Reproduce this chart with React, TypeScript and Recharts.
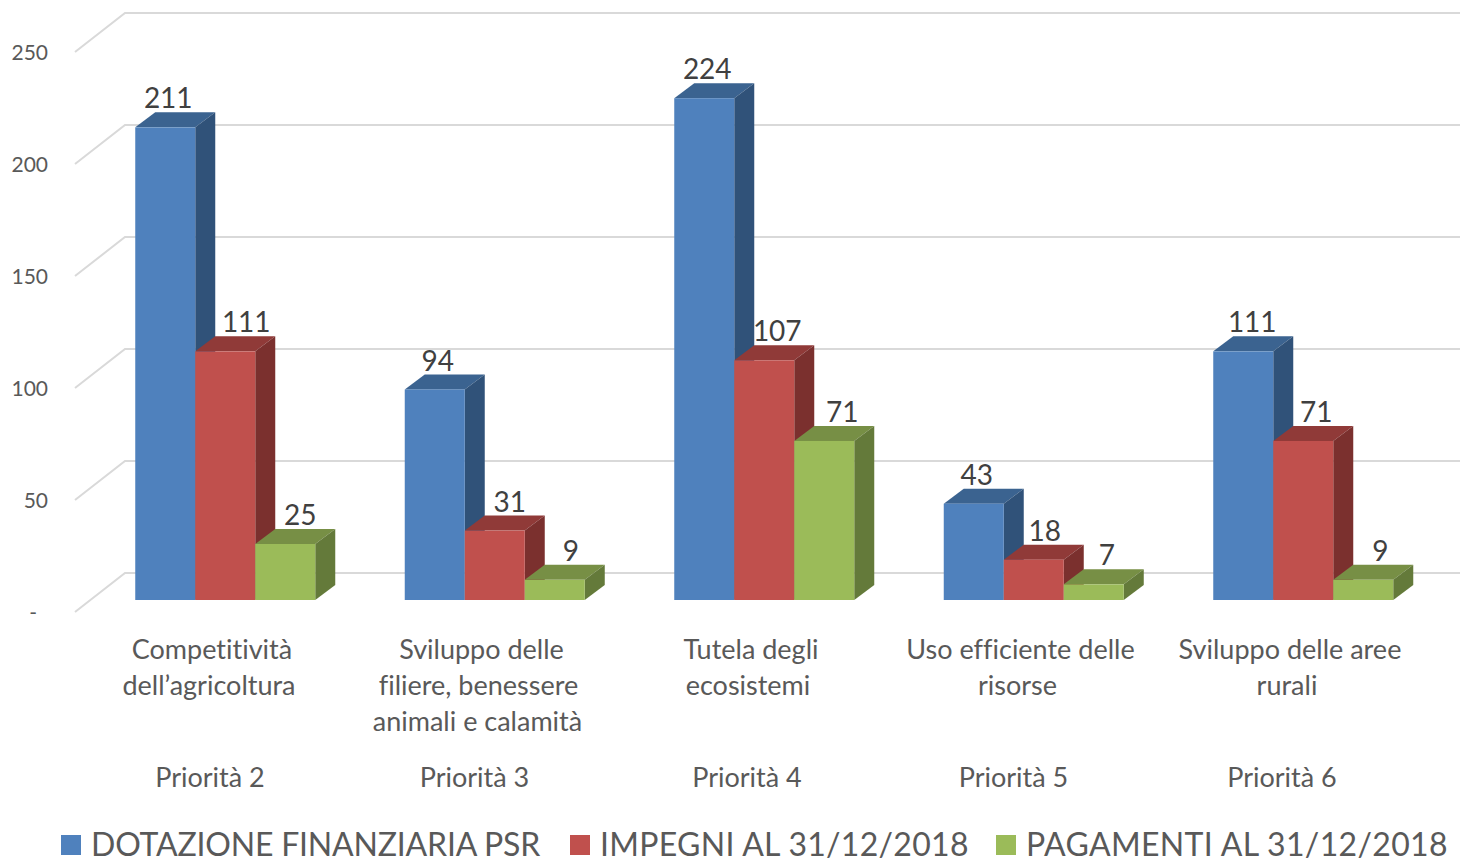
import { Bar, BarChart, CartesianGrid, LabelList, Legend, XAxis, YAxis } from "recharts";

const CATEGORIES = ["Priorità 2", "Priorità 3", "Priorità 4", "Priorità 5", "Priorità 6"];
const CATEGORY_LINES = [
  ["Competitività", "dell’agricoltura"],
  ["Sviluppo delle", "filiere, benessere", "animali e calamità"],
  ["Tutela degli", "ecosistemi"],
  ["Uso efficiente delle", "risorse"],
  ["Sviluppo delle aree", "rurali"],
];
const DOTAZIONE = [211, 94, 224, 43, 111];
const IMPEGNI = [111, 31, 107, 18, 71];
const PAGAMENTI = [25, 9, 71, 7, 9];
const Y_TICKS = [0, 50, 100, 150, 200, 250];

const data = CATEGORIES.map((name, i) => ({
  name,
  dotazione: DOTAZIONE[i],
  impegni: IMPEGNI[i],
  pagamenti: PAGAMENTI[i],
}));

// Fake-3D layout: bars sit on the front plane, the wall is pushed back and up.
const DEPTH_X = 20;
const DEPTH_Y = 15;
const FONT = "Lato, 'Open Sans', sans-serif";

const SERIES = [
  { key: "dotazione", name: "DOTAZIONE FINANZIARIA PSR", fill: "#4f81bd", top: "#3b6390", side: "#305279", labelDx: [3, 3, 3, 3, 9] },
  { key: "impegni", name: "IMPEGNI AL 31/12/2018", fill: "#c0504d", top: "#903a38", side: "#7b302e", labelDx: [21, 15, 13, 11, 13] },
  { key: "pagamenti", name: "PAGAMENTI AL 31/12/2018", fill: "#9bbb59", top: "#778f45", side: "#647a3a", labelDx: [15, 16, 18, 13, 17] },
];
const LEGEND_X = [61, 570, 996];
const LEGEND_SPACING = [-0.2, 0.3, 0.35];
const LINE_DX = [-13, -16, -17];
const PRIORITY_DX = [-15, -20, -17, -20, -21];

function Box3D({ x, y, width, height, fill, top, side }: any) {
  const r = x + width;
  const b = y + height;
  return (
    <g>
      <polygon points={`${x},${y} ${x + DEPTH_X},${y - DEPTH_Y} ${r + DEPTH_X},${y - DEPTH_Y} ${r},${y}`} fill={top} />
      <polygon points={`${r},${y} ${r + DEPTH_X},${y - DEPTH_Y} ${r + DEPTH_X},${b - DEPTH_Y} ${r},${b}`} fill={side} />
      <rect x={x} y={y} width={width} height={height} fill={fill} />
    </g>
  );
}

// Each grid line: diagonal on the left side wall, then along the back wall.
function WallLine({ y1 }: any) {
  return (
    <polyline
      points={`75,${y1 + 12} 125,${y1 - 27} 1460,${y1 - 27}`}
      fill="none"
      stroke="#d9d9d9"
      strokeWidth={2}
    />
  );
}

function YTick({ y, payload }: any) {
  const zero = payload.value === 0;
  return (
    <text x={zero ? 37 : 48} y={y + 12} dy="0.36em" textAnchor="end" fontFamily={FONT} fontSize={21} fill="#595959">
      {zero ? "-" : payload.value}
    </text>
  );
}

function XTick({ x, y, payload, index }: any) {
  const lines = CATEGORY_LINES[index];
  return (
    <g fontFamily={FONT} fontSize={27} fill="#595959" textAnchor="middle" style={{ fontVariantLigatures: "none" }}>
      {lines.map((line, i) => (
        <text key={line} x={x + LINE_DX[i]} y={y + 43.5 + i * 36} dy="0.36em">
          {line}
        </text>
      ))}
      <text x={x + PRIORITY_DX[index]} y={y + 171.5} dy="0.36em">
        {payload.value}
      </text>
    </g>
  );
}

function LegendRow({ payload }: any) {
  return (
    <div style={{ position: "relative", height: 36, fontFamily: FONT, fontSize: 32, color: "#595959" }}>
      {(payload ?? []).map((item: any, i: number) => (
        <div
          key={item.value}
          style={{ position: "absolute", left: LEGEND_X[i], top: 0, whiteSpace: "nowrap", lineHeight: "36px", letterSpacing: LEGEND_SPACING[i] }}
        >
          <span style={{ position: "absolute", left: 0, top: 9, width: 20, height: 20, background: item.color }} />
          <span style={{ marginLeft: 30 }}>{item.value}</span>
        </div>
      ))}
    </div>
  );
}

export default function App() {
  return (
    <div style={{ position: "absolute", left: 0, top: 0, width: 1460, height: 862, background: "#fff", overflow: "hidden" }}>
      <BarChart
        width={1460}
        height={862}
        data={data}
        barGap={0}
        barSize={60}
        barCategoryGap={44.75}
        margin={{ top: 40, right: 22.25, bottom: 232, left: 40.25 }}
      >
        <CartesianGrid vertical={false} horizontal={WallLine} />
        <XAxis dataKey="name" interval={0} axisLine={false} tickLine={false} tickMargin={0} height={30} tick={XTick} />
        <YAxis width={50} domain={[0, 250]} ticks={Y_TICKS} axisLine={false} tickLine={false} tick={YTick} />
        <Legend
          layout="horizontal"
          verticalAlign="middle"
          align="center"
          content={LegendRow}
          wrapperStyle={{ left: 0, top: 826, width: 1460 }}
        />
        {SERIES.map((s) => (
          <Bar
            key={s.key}
            dataKey={s.key}
            name={s.name}
            fill={s.fill}
            isAnimationActive={false}
            shape={(props: any) => <Box3D {...props} top={s.top} side={s.side} />}
          >
            <LabelList
              dataKey={s.key}
              content={({ x, y, width, value, index }: any) => (
                <text
                  x={x + width / 2 + s.labelDx[index]}
                  y={y - 29}
                  dy="0.36em"
                  textAnchor="middle"
                  fontFamily={FONT}
                  fontSize={28}
                  fill="#404040"
                >
                  {value}
                </text>
              )}
            />
          </Bar>
        ))}
      </BarChart>
    </div>
  );
}
